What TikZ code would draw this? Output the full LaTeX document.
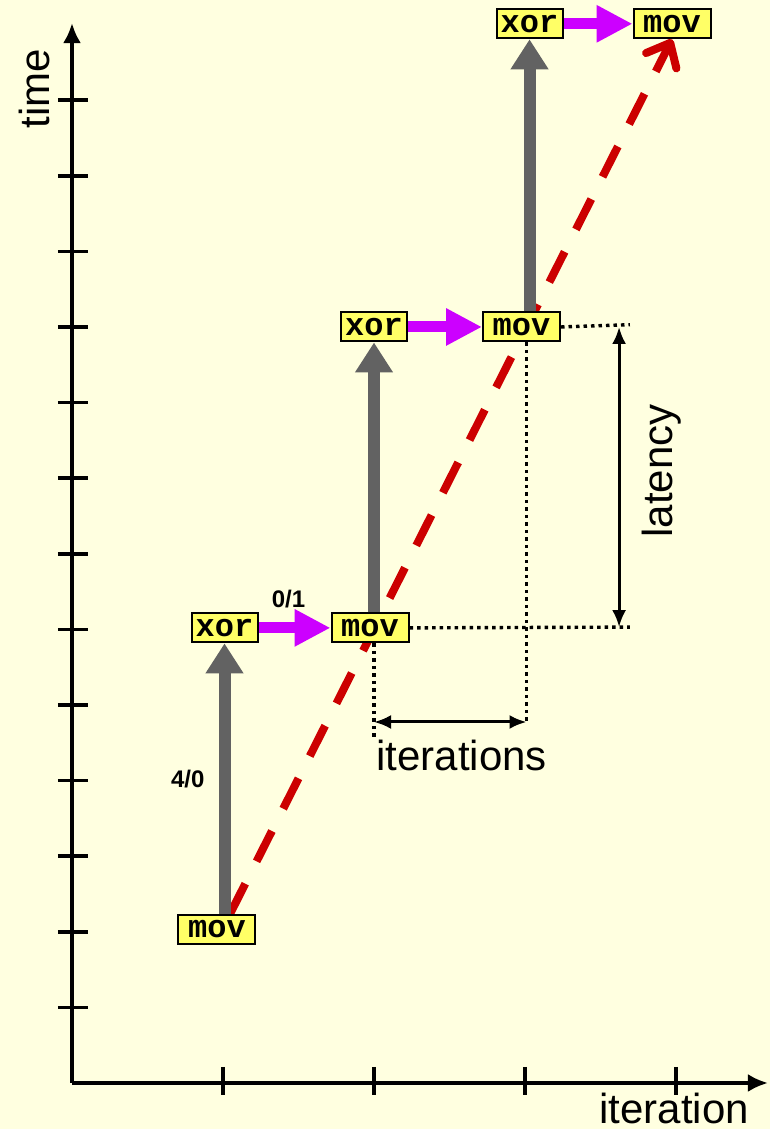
\documentclass[tikz,border=0pt]{standalone}
\usepackage{fontspec}
\setmainfont{Liberation Sans}
\setmonofont{Liberation Mono}
\usetikzlibrary{arrows.meta,positioning,backgrounds}

\definecolor{paper}{HTML}{FFFFE0}
\definecolor{opfill}{HTML}{FFFF66}
\definecolor{opgray}{HTML}{626262}
\definecolor{depmag}{HTML}{CC00FF}
\definecolor{critred}{HTML}{CC0000}

\begin{document}
\begin{tikzpicture}[
        x=75.5pt, y=37.8pt,
        font=\fontsize{21}{25}\selectfont,
        op/.style={draw, line width=1pt, fill=opfill, inner sep=0pt, minimum height=14.5pt,
            font=\fontsize{16}{18}\selectfont\ttfamily\bfseries},
        movbox/.style={op, minimum width=38.5pt},
        xorbox/.style={op, minimum width=33pt},
        axisline/.style={line width=1.8pt, -{Latex[length=10pt,width=9pt]}},
        axtick/.style={line width=1.8pt},
        issue/.style={opgray, line width=6pt, -{Triangle[length=15pt,width=18pt]}},
        dep/.style={depmag, line width=5.5pt, -{Triangle[length=18pt,width=17.5pt]}},
        crit/.style={critred, line width=4pt, dash pattern=on 17pt off 12.5pt,
            -{Straight Barb[length=10pt,width=17pt,round]}},
        guide/.style={line width=1.7pt, dash pattern=on 1.75pt off 2pt},
        measure/.style={line width=1.5pt, {Latex[length=8.5pt,width=7pt]}-{Latex[length=8.5pt,width=7pt]}},
        lbl/.style={text=black, font=\fontsize{12}{14}\selectfont\bfseries, inner sep=0pt}
    ]
        \path[use as bounding box] (-0.4768,-0.6085) rectangle (4.6225,14.325);

        % axes
        \draw[axisline] (0,0) -- (0,14.02);
        \draw[axisline] (0,0) -- (4.609,0);
        \foreach \k in {1,...,13} \draw[axtick] (-0.093,\k) -- (0.106,\k);
        \foreach \k in {1,...,4} \draw[axtick] (\k,0.212) -- (\k,-0.159);
        \node[rotate=90, anchor=base] (timelab) at (-0.146,13.148) {time};
        \node[anchor=base] (iterlab) at (3.987,-0.53) {iteration};

        % instructions
        \node[movbox] (m1) at (0.96,2.03) {mov};
        \node[xorbox] (x1) at (1.01,6.02) {xor};
        \node[movbox, right=36pt of x1] (m2) {mov};
        \node[xorbox] (x2) at (2.0,10.0) {xor};
        \node[movbox, right=37pt of x2] (m3) {mov};
        \node[xorbox] (x3) at (3.03,14.01) {xor};
        \node[movbox, right=34.5pt of x3] (m4) {mov};

        \begin{scope}[on background layer]
            \fill[paper] (-0.4768,-0.6085) rectangle (4.6225,14.325);
            \draw[crit] ([xshift=6.5pt]m1.north) -- (m4.south);
        \end{scope}

        \draw[issue] (m1.north -| x1.south) -- node[lbl, left=7pt] (lab40) {4/0} (x1.south);
        \draw[issue] (m2.north -| x2.south) -- (x2.south);
        \draw[issue] (m3.north -| x3.south) -- (x3.south);
        \draw[dep] (x1) -- node[lbl, above=7pt, xshift=-3pt] (lab01) {0/1} (m2);
        \draw[dep] (x2) -- (m3);
        \draw[dep] (x3) -- (m4);

        % measures
        \coordinate (d2) at (3.695,6.03);
        \coordinate (d3) at (3.695,10.03);
        \coordinate (v2) at (2.0,4.563);
        \coordinate (v3) at (3.01,4.775);
        \coordinate (w2) at (2.0,4.775);
        \coordinate (l2) at (3.623,6.03);
        \coordinate (l3) at (3.623,10.0);
        \draw[guide] (m2.east) -- (d2);
        \draw[guide] (m3.east) -- (d3);
        \draw[guide] (m2.south -| v2) -- (v2);
        \draw[guide] (m3.south -| v3) -- (v3);
        \draw[measure] (w2) -- (v3);
        \draw[measure] (l2) -- (l3);
        \node[anchor=base] (itslab) at (2.58,4.14) {iterations};
        \node[rotate=90, anchor=base] (latlab) at (3.974,8.095) {latency};
    \end{tikzpicture}
\end{document}
